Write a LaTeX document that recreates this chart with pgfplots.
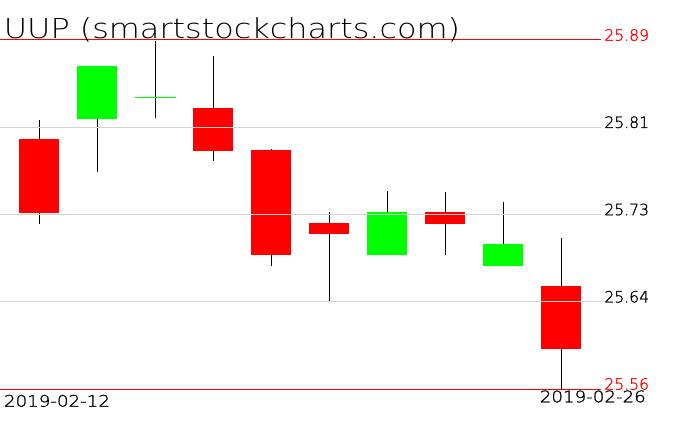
\documentclass[border=0pt]{standalone}
\usepackage{fontspec}
\usepackage{graphicx}
\usepackage{pgfplots}
\usepackage{pgfplotstable}
\pgfplotsset{compat=1.18}
\IfFontExistsTF{DejaVu Sans ExtraLight}
  {\setmainfont{DejaVu Sans ExtraLight}\newfontfamily\labfont[FakeBold=1.2]{DejaVu Sans ExtraLight}}
  {\setmainfont{DejaVu Sans}\newfontfamily\labfont{DejaVu Sans}}
\definecolor{cgreen}{RGB}{0,255,0}
\definecolor{cgrid}{RGB}{211,211,211}

\pgfplotstableread{
x open high low close
0 25.7964 25.8144 25.7163 25.7267
1 25.8156 25.8654 25.7655 25.8654
2 25.8361 25.8893 25.8158 25.8361
3 25.8260 25.8749 25.7759 25.7853
4 25.7860 25.7869 25.6766 25.6870
5 25.7170 25.7274 25.6425 25.7068
6 25.6867 25.7472 25.6867 25.7274
7 25.7274 25.7463 25.6870 25.7163
8 25.6766 25.7368 25.6766 25.6974
9 25.6574 25.7028 25.5600 25.5981
}\ohlc

\begin{document}
\begin{tikzpicture}[x=1pt,y=1pt]
\useasboundingbox (0,0) rectangle (676,431);
\begin{axis}[
  at={(0pt,42pt)}, anchor=south west,
  scale only axis, width=600.7pt, height=349pt,
  xmin=-0.681, xmax=9.676, ymin=25.56, ymax=25.89,
  hide x axis,
  axis y line*=right,
  y axis line style={draw=none},
  ytick={25.56,25.6425,25.725,25.8075,25.89},
  yticklabels={\textcolor{red}{25.56},25.64,25.73,25.81,\textcolor{red}{25.89}},
  major tick length=0pt,
  tick style={draw=none},
  yticklabel pos=right,
  yticklabel style={font=\labfont\fontsize{15.6}{18}\selectfont, anchor=base west, inner sep=0pt, xshift=3.5pt, yshift=-0.7pt},
  clip=false,
  /pgf/number format/assume math mode=true,
]
% wicks
\addplot[draw=none, mark=none, error bars/.cd, y dir=plus, y explicit, error mark=none,
  error bar style={draw=black, line width=1pt}]
  table[x=x, y=low, y error plus expr=\thisrow{high}-\thisrow{low}] {\ohlc};
% red bodies
\addplot[draw=none, mark=none, error bars/.cd, y dir=plus, y explicit, error mark=none,
  error bar style={draw=red, line width=40pt}]
  table[x=x, y=close, y error plus expr={max(\thisrow{open}-\thisrow{close},0)}] {\ohlc};
% green bodies
\addplot[draw=none, mark=none, error bars/.cd, y dir=plus, y explicit, error mark=none,
  error bar style={draw=cgreen, line width=40pt}]
  table[x=x, y=open, y error plus expr={max(\thisrow{close}-\thisrow{open},0)}] {\ohlc};
% doji
\addplot[cgreen, line width=1pt] coordinates {(1.655,25.8361) (2.345,25.8361)};
% grid lines (drawn over the candles, as in the original)
\addplot[cgrid, line width=1pt] coordinates {(-0.681,25.6425) (9.676,25.6425)};
\addplot[cgrid, line width=1pt] coordinates {(-0.681,25.725) (9.676,25.725)};
\addplot[cgrid, line width=1pt] coordinates {(-0.681,25.8075) (9.676,25.8075)};
% top and bottom red lines
\addplot[red, line width=1pt] coordinates {(-0.681,25.89) (9.676,25.89)};
\addplot[red, line width=1pt] coordinates {(-0.681,25.56) (9.676,25.56)};
\end{axis}
\node[anchor=base west, inner sep=0pt, font=\fontsize{27.5}{30}\selectfont] at (3.6,392.7) {\scalebox{1.16}[1]{UUP (smartstockcharts.com)}};
\node[anchor=base west, inner sep=0pt, font=\labfont\fontsize{16}{18}\selectfont] at (3.8,24.3) {\scalebox{1.14}[1]{2019-02-12}};
\node[anchor=base east, inner sep=0pt, font=\labfont\fontsize{16}{18}\selectfont] at (646,28.7) {\scalebox{1.14}[1]{2019-02-26}};
\end{tikzpicture}
\end{document}
